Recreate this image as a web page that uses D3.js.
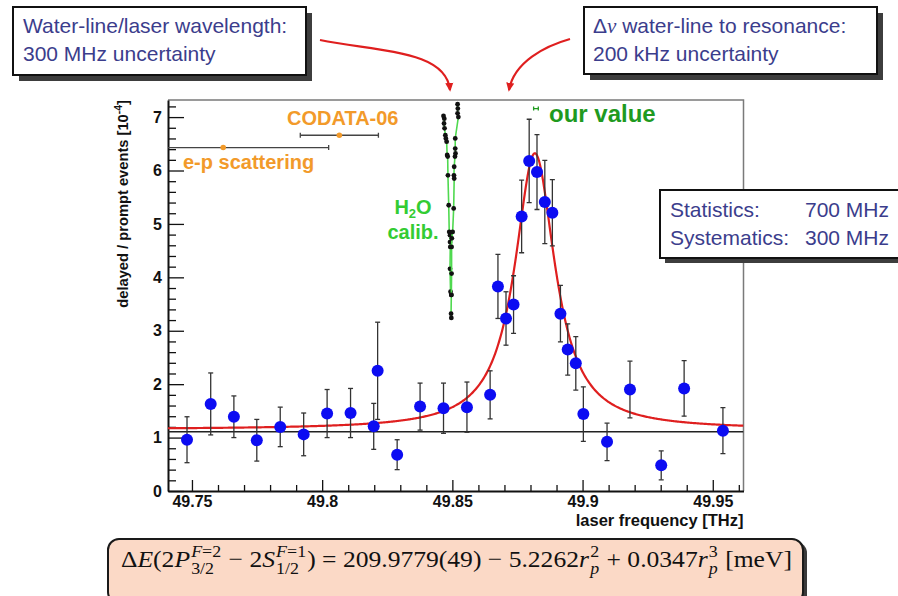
<!DOCTYPE html>
<html>
<head>
<meta charset="utf-8">
<script src="https://cdn.jsdelivr.net/npm/d3@7"></script>
<style>
  html, body { margin: 0; padding: 0; background: #fff; }
  svg { display: block; font-family: "Liberation Sans", Arial, Helvetica, sans-serif; }
</style>
</head>
<body>
<svg id="chart" width="898" height="596"></svg>
<script>
// ---------------- measured resonance scan ----------------
const freqTHz = [49.7481, 49.7572, 49.7661, 49.7749, 49.7839, 49.7929, 49.8019, 49.8109,
                 49.8198, 49.8213, 49.8288, 49.8376, 49.8466, 49.8556, 49.8645, 49.8675,
                 49.8706, 49.8735, 49.8766, 49.8795, 49.8825, 49.8855, 49.8884, 49.8915,
                 49.8943, 49.8974, 49.9003, 49.9094, 49.9182, 49.9302, 49.9390, 49.9539];
const ratio    = [0.96, 1.63, 1.39, 0.95, 1.20, 1.06, 1.45, 1.46,
                  1.21, 2.25, 0.68, 1.58, 1.55, 1.57, 1.80, 3.83,
                  3.23, 3.49, 5.14, 6.18, 5.97, 5.41, 5.21, 3.32,
                  2.65, 2.39, 1.44, 0.92, 1.90, 0.48, 1.92, 1.13];
const ratioErr = [0.43, 0.58, 0.39, 0.39, 0.37, 0.40, 0.45, 0.46,
                  0.43, 0.91, 0.28, 0.44, 0.47, 0.47, 0.45, 0.60,
                  0.50, 0.54, 0.68, 0.78, 0.70, 0.78, 0.62, 0.53,
                  0.48, 0.50, 0.51, 0.35, 0.53, 0.27, 0.52, 0.43];

// Lorentzian fit on a flat background
const fitCenter = 49.8817;
const fitHalfWidth = 0.0094;
const fitAmplitude = 5.17;
const fitBackground = 1.152;
// flat background level without the resonance
const flatLevel = 1.11;

// ---------------- H2O calibration scans ----------------
const calibAFreq  = [49.8466, 49.8469, 49.8468, 49.8470, 49.8473, 49.8475, 49.8478, 49.8480, 49.8482, 49.8483,
                     49.8486, 49.8488, 49.8491, 49.8491, 49.8492, 49.8491, 49.8493, 49.8496, 49.8495, 49.8496];
const calibALevel = [7.02, 6.97, 6.88, 6.79, 6.66, 6.60, 6.54, 6.29, 6.26, 5.91,
                     5.35, 4.85, 4.79, 4.66, 4.57, 4.16, 3.73, 3.67, 3.32, 3.24];
const calibBFreq  = [49.8520, 49.8521, 49.8520, 49.8523, 49.8511, 49.8511, 49.8512, 49.8510, 49.8507,
                     49.8506, 49.8507, 49.8505, 49.8501, 49.8498, 49.8497, 49.8497, 49.8496];
const calibBLevel = [7.24, 7.16, 7.07, 7.00, 6.60, 6.41, 6.32, 6.26, 6.07,
                     5.91, 5.85, 5.29, 4.85, 4.73, 4.57, 4.07, 3.67];

// ---------------- earlier determinations ----------------
const refNames = ["e-p scattering", "CODATA-06"];
const refFreq  = [49.7620, 49.8066];
const refErr   = [0.0405, 0.0150];
const refLevel = [6.43, 6.66];
const ourFreq = 49.8821, ourErr = 0.0009, ourLevel = 7.16;

// ---------------- axes ----------------
const xMajorTicks = [49.75, 49.8, 49.85, 49.9, 49.95];
const xTickLabels = ["49.75", "49.8", "49.85", "49.9", "49.95"];
const yMajorTicks = [0, 1, 2, 3, 4, 5, 6, 7];
const xTitle = "laser frequency [THz]";
const yTitle = "delayed / prompt events [10";
const yTitleExp = "-4";

// ---------------- annotation texts ----------------
const boxLeftLines  = ["Water-line/laser wavelength:", "300 MHz uncertainty"];
const boxRightLine2 = "200 kHz uncertainty";
const statNames  = ["Statistics:", "Systematics:"];
const statValues = ["700 MHz", "300 MHz"];

const SANS = '"Liberation Sans", Arial, Helvetica, sans-serif';
const SERIF = '"Liberation Serif", "Times New Roman", serif';

const svg = d3.select("#chart");
const plot = { left: 168, right: 743.5, top: 100, bottom: 491 };

const x = d3.scaleLinear().domain([49.7408, 49.9618]).range([plot.left, plot.right]);
const y = d3.scaleLinear().domain([0, 7.32]).range([plot.bottom, plot.top]);

const defs = svg.append("defs");
defs.append("clipPath").attr("id", "plotClip")
  .append("rect")
  .attr("x", plot.left).attr("y", plot.top)
  .attr("width", plot.right - plot.left).attr("height", plot.bottom - plot.top);

defs.append("marker").attr("id", "redHead")
  .attr("viewBox", "0 0 10 10").attr("refX", 8).attr("refY", 5)
  .attr("markerWidth", 9).attr("markerHeight", 9).attr("markerUnits", "userSpaceOnUse")
  .attr("orient", "auto")
  .append("path").attr("d", "M0,0.5 L10,5 L0,9.5 Z").attr("fill", "#df1f1f");

// frame (top / right)
svg.append("path")
  .attr("d", `M${plot.left},${plot.top}H${plot.right}V${plot.bottom}`)
  .attr("fill", "none").attr("stroke", "#7a7a7a").attr("stroke-width", 1.5);

// x axis
const xMinorTicks = d3.range(49.75, 49.965, 0.01).map(v => +v.toFixed(2))
  .filter(v => !xMajorTicks.includes(v));
const gxMinor = svg.append("g").attr("transform", `translate(0,${plot.bottom})`)
  .call(d3.axisBottom(x).tickValues(xMinorTicks).tickSize(-6).tickFormat("").tickSizeOuter(0));
gxMinor.select(".domain").remove();
const gx = svg.append("g").attr("transform", `translate(0,${plot.bottom})`)
  .call(d3.axisBottom(x).tickValues(xMajorTicks).tickSize(-11).tickSizeOuter(0).tickPadding(5)
        .tickFormat((d, i) => xTickLabels[i]));

// y axis
const yMinorTicks = d3.range(0, 7.3, 0.2).map(v => +v.toFixed(1))
  .filter(v => !yMajorTicks.includes(v));
const gyMinor = svg.append("g").attr("transform", `translate(${plot.left},0)`)
  .call(d3.axisLeft(y).tickValues(yMinorTicks).tickSize(-8).tickFormat("").tickSizeOuter(0));
gyMinor.select(".domain").remove();
const gy = svg.append("g").attr("transform", `translate(${plot.left},0)`)
  .call(d3.axisLeft(y).tickValues(yMajorTicks).tickSize(-16).tickSizeOuter(0).tickPadding(6)
        .tickFormat(d3.format("d")));

[gx, gy, gxMinor, gyMinor].forEach(g => {
  g.attr("font-family", SANS).attr("font-size", 16);
  g.selectAll(".tick line").attr("stroke", "#111").attr("stroke-width", 1.3);
  g.selectAll("text").attr("font-weight", "bold").attr("fill", "#111");
});
[gx, gy].forEach(g => g.select(".domain").attr("stroke", "#111").attr("stroke-width", 2));

// axis titles
svg.append("text")
  .attr("x", plot.right).attr("y", 526).attr("text-anchor", "end")
  .attr("font-size", 16.5).attr("font-weight", "bold").attr("fill", "#111")
  .text(xTitle);
const yt = svg.append("text")
  .attr("transform", `translate(128,${plot.top}) rotate(-90)`)
  .attr("text-anchor", "end")
  .attr("font-size", 14.7).attr("font-weight", "bold").attr("fill", "#111");
yt.append("tspan").text(yTitle);
yt.append("tspan").attr("font-size", 10.5).attr("dy", -6).text(yTitleExp);
yt.append("tspan").attr("dy", 6).text("]");

// plotted content, clipped to the frame
const gPlot = svg.append("g").attr("clip-path", "url(#plotClip)");

// flat background
gPlot.append("line")
  .attr("x1", plot.left).attr("x2", plot.right)
  .attr("y1", y(flatLevel)).attr("y2", y(flatLevel))
  .attr("stroke", "#222").attr("stroke-width", 1.6);

// fitted line shape
const lorentz = f => fitBackground + fitAmplitude / (1 + Math.pow((f - fitCenter) / fitHalfWidth, 2));
const fitFreqs = d3.range(0, 601).map(i => x.domain()[0] + (x.domain()[1] - x.domain()[0]) * i / 600);
gPlot.append("path")
  .datum(fitFreqs)
  .attr("d", d3.line().x(f => x(f)).y(f => y(lorentz(f))))
  .attr("fill", "none").attr("stroke", "#df1f1f").attr("stroke-width", 2.2);

// H2O calibration scans
const calibLine = d3.line().x(d => x(d[0])).y(d => y(d[1]));
[[calibAFreq, calibALevel], [calibBFreq, calibBLevel]].forEach(([fs, ls]) => {
  const pts = fs.map((f, i) => [f, ls[i]]);
  gPlot.append("path").datum(pts).attr("d", calibLine)
    .attr("fill", "none").attr("stroke", "#4fd94f").attr("stroke-width", 1.6);
  gPlot.selectAll(null).data(pts).enter().append("circle")
    .attr("cx", d => x(d[0])).attr("cy", d => y(d[1])).attr("r", 2.4).attr("fill", "#111");
});

// error bars + points
const pts = freqTHz.map((f, i) => ({ f, r: ratio[i], e: ratioErr[i] }));
const eb = gPlot.append("g").attr("stroke", "#333").attr("stroke-width", 1.3);
pts.forEach(p => {
  const cx = x(p.f);
  eb.append("line").attr("x1", cx).attr("x2", cx).attr("y1", y(p.r - p.e)).attr("y2", y(p.r + p.e));
  eb.append("line").attr("x1", cx - 2.5).attr("x2", cx + 2.5).attr("y1", y(p.r - p.e)).attr("y2", y(p.r - p.e));
  eb.append("line").attr("x1", cx - 2.5).attr("x2", cx + 2.5).attr("y1", y(p.r + p.e)).attr("y2", y(p.r + p.e));
});
gPlot.selectAll(".pt").data(pts).enter().append("circle")
  .attr("cx", d => x(d.f)).attr("cy", d => y(d.r)).attr("r", 6).attr("fill", "#0c0cf2");

// earlier values (horizontal error bars)
refNames.forEach((name, i) => {
  const yy = y(refLevel[i]);
  const x0 = x(refFreq[i] - refErr[i]), x1 = x(refFreq[i] + refErr[i]);
  const g = gPlot.append("g").attr("stroke", "#444").attr("stroke-width", 1.3);
  g.append("line").attr("x1", x0).attr("x2", x1).attr("y1", yy).attr("y2", yy);
  [x0, x1].forEach(xx => g.append("line").attr("x1", xx).attr("x2", xx).attr("y1", yy - 2.5).attr("y2", yy + 2.5));
  gPlot.append("circle").attr("cx", x(refFreq[i])).attr("cy", yy).attr("r", 2.8).attr("fill", "#f29a2a");
});
// this measurement
{
  const yy = y(ourLevel), x0 = x(ourFreq - ourErr), x1 = x(ourFreq + ourErr);
  const g = gPlot.append("g").attr("stroke", "#1f9a1f").attr("stroke-width", 1.3);
  g.append("line").attr("x1", x0).attr("x2", x1).attr("y1", yy).attr("y2", yy);
  [x0, x1].forEach(xx => g.append("line").attr("x1", xx).attr("x2", xx).attr("y1", yy - 2).attr("y2", yy + 2));
}

// labels inside the frame
svg.append("text").attr("x", 287).attr("y", 125).attr("font-size", 20).attr("font-weight", "bold")
  .attr("fill", "#f29a2a").text(refNames[1]);
svg.append("text").attr("x", 183).attr("y", 169).attr("font-size", 20).attr("font-weight", "bold")
  .attr("fill", "#f29a2a").text(refNames[0]);
svg.append("text").attr("x", 549).attr("y", 122).attr("font-size", 24).attr("font-weight", "bold")
  .attr("fill", "#1f9a1f").text("our value");
const h2o = svg.append("text").attr("x", 413).attr("y", 214).attr("text-anchor", "middle")
  .attr("font-size", 20).attr("font-weight", "bold").attr("fill", "#33cc33");
h2o.append("tspan").text("H");
h2o.append("tspan").attr("font-size", 13).attr("dy", 4).text("2");
h2o.append("tspan").attr("dy", -4).text("O");
svg.append("text").attr("x", 413).attr("y", 239).attr("text-anchor", "middle")
  .attr("font-size", 20).attr("font-weight", "bold").attr("fill", "#33cc33").text("calib.");

// ---------------- annotation boxes ----------------
const boxText = "#3b3d8c";
function shadowBox(bx, by, bw, bh, off) {
  svg.append("rect").attr("x", bx + off).attr("y", by + off).attr("width", bw).attr("height", bh)
    .attr("fill", "#3d3d3d");
  svg.append("rect").attr("x", bx).attr("y", by).attr("width", bw).attr("height", bh)
    .attr("fill", "#fff").attr("stroke", "#111").attr("stroke-width", 2);
}

shadowBox(13, 7, 293, 68, 6);
boxLeftLines.forEach((t, i) => svg.append("text").attr("x", 23).attr("y", 33 + i * 28)
  .attr("font-size", 21).attr("fill", boxText).text(t));

shadowBox(584, 7, 293, 67, 6);
const rl = svg.append("text").attr("x", 593).attr("y", 33).attr("font-size", 21).attr("fill", boxText);
rl.append("tspan").text("Δ");
rl.append("tspan").style("font-family", SERIF).style("font-style", "italic").text("ν");
rl.append("tspan").text("\u00A0water-line to resonance:");
svg.append("text").attr("x", 593).attr("y", 61).attr("font-size", 21).attr("fill", boxText).text(boxRightLine2);

shadowBox(660, 190, 250, 68, 5);
statNames.forEach((t, i) => {
  svg.append("text").attr("x", 670).attr("y", 217 + i * 28).attr("font-size", 21).attr("fill", boxText).text(t);
  svg.append("text").attr("x", 889).attr("y", 217 + i * 28).attr("text-anchor", "end")
    .attr("font-size", 21).attr("fill", boxText).text(statValues[i]);
});

// arrows
svg.append("path").attr("d", "M320,40 C380,52 446,50 450,90")
  .attr("fill", "none").attr("stroke", "#df1f1f").attr("stroke-width", 2.2)
  .attr("marker-end", "url(#redHead)");
svg.append("path").attr("d", "M570,39 C545,46 514,62 509,90")
  .attr("fill", "none").attr("stroke", "#df1f1f").attr("stroke-width", 2.2)
  .attr("marker-end", "url(#redHead)");

// ---------------- Lamb shift formula ----------------
svg.append("rect").attr("x", 112).attr("y", 542).attr("width", 695).attr("height", 64).attr("rx", 11)
  .attr("fill", "#3a3a3a");
svg.append("rect").attr("x", 108).attr("y", 539).attr("width", 695).attr("height", 64).attr("rx", 11)
  .attr("fill", "#fbd9c6").attr("stroke", "#1a1a1a").attr("stroke-width", 2);

const formulaParts = [
  { t: "Δ" }, { t: "E", i: true }, { t: "(2" }, { t: "P", i: true },
  { sup: [{ t: "F", i: true }, { t: "=2" }], sub: [{ t: "3/2" }] },
  { t: " − 2" }, { t: "S", i: true },
  { sup: [{ t: "F", i: true }, { t: "=1" }], sub: [{ t: "1/2" }] },
  { t: ") = 209.9779(49) − 5.2262" }, { t: "r", i: true },
  { sup: [{ t: "2" }], sub: [{ t: "p", i: true }] },
  { t: " + 0.0347" }, { t: "r", i: true },
  { sup: [{ t: "3" }], sub: [{ t: "p", i: true }] },
  { t: " [meV]" }
];

const fg = svg.append("g");
function layoutFormula(g, parts, size) {
  let cx = 0;
  const put = (item, xx, dy, fs) => g.append("text")
    .attr("x", xx).attr("y", dy).attr("font-size", fs)
    .style("font-family", SERIF)
    .style("font-style", item.i ? "italic" : "normal").attr("fill", "#111")
    .text(item.t.replace(/ /g, "\u00A0")).node().getComputedTextLength();
  parts.forEach(p => {
    if (p.t !== undefined) {
      cx += put(p, cx, 0, size);
    } else {
      let wSup = 0, wSub = 0;
      p.sup.forEach(s => { wSup += put(s, cx + 1 + wSup, -0.42 * size, size * 0.7); });
      p.sub.forEach(s => { wSub += put(s, cx + 1 + wSub, 0.3 * size, size * 0.7); });
      cx += Math.max(wSup, wSub) + 2;
    }
  });
  return cx;
}
const fw = layoutFormula(fg, formulaParts, 24);
const targetW = 671;
fg.attr("transform", `translate(121,567) scale(${targetW / fw},1)`);
</script>
</body>
</html>
